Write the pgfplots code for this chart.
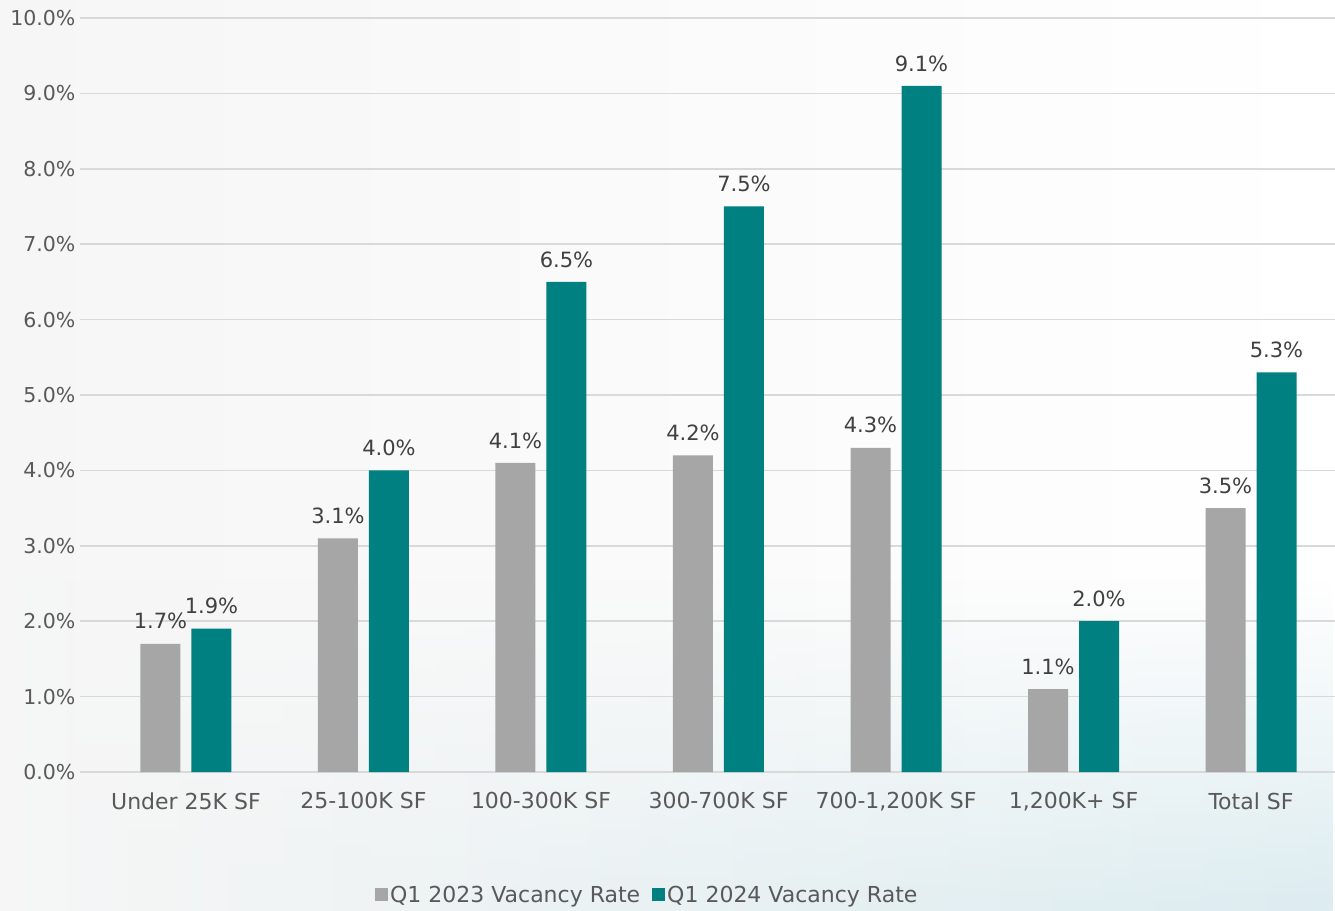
\documentclass[border=0pt]{standalone}
\usepackage{pgfplots}
\pgfplotsset{compat=1.18}
\usetikzlibrary{fadings}
\usepackage{fontspec}
\setmainfont{DejaVu Sans}
\definecolor{barGray}{HTML}{A6A6A6}
\definecolor{barTeal}{HTML}{008080}
\definecolor{gridGray}{HTML}{D9D9D9}
\definecolor{tickText}{HTML}{595959}
\definecolor{valText}{HTML}{404040}
\definecolor{bgLight}{HTML}{F6F6F6}
\definecolor{bgBlue}{HTML}{DCECF0}
\begin{document}
\begin{tikzpicture}[x=1pt,y=1pt]
\useasboundingbox (0,0) rectangle (1335pt,910pt);
% soft background
\shade[left color=bgLight, right color=white] (0,0) rectangle (1335pt,910pt);
\shade[left color=bgLight, right color=bgBlue, path fading=north] (0,0) rectangle (1335pt,330pt);
\begin{axis}[
  at={(80pt,138pt)}, anchor=south west,
  width=1255pt, height=754pt, scale only axis,
  ybar=11pt, bar width=40pt,
  xmin=-0.597, xmax=6.473,
  ymin=0, ymax=10,
  ytick={0,1,...,10},
  xtick=data,
  xticklabels={Under 25K SF,25-100K SF,100-300K SF,300-700K SF,700-1{,}200K SF,{1,200K+ SF},Total SF},
  axis line style={draw=none},
  major tick length=0pt,
  ymajorgrids, grid style={gridGray, line width=1.5pt},
  /pgf/number format/assume math mode=true,
  yticklabel={\pgfmathprintnumber[fixed,fixed zerofill,precision=1]{\tick}\%},
  yticklabel style={font=\fontsize{20.5}{24}\selectfont, text=tickText, xshift=-1pt},
  xticklabel style={font=\fontsize{22}{24}\selectfont, text=tickText, yshift=-17pt},
  point meta=explicit symbolic,
  nodes near coords={\pgfplotspointmeta\%},
  nodes near coords style={font=\fontsize{21}{24}\selectfont, text=valText, yshift=11pt},
  legend columns=2,
  legend style={at={(0.452,-0.163)}, anchor=center, draw=none, fill=none,
    font=\fontsize{22}{24}\selectfont, text=tickText,
    /tikz/every even column/.append style={column sep=10pt}},
  legend image code/.code={\fill[#1] (0,-6.5pt) rectangle (13pt,6.5pt);},
  legend cell align=left,
]
\addplot[fill=barGray, draw=none] coordinates {(0,1.7)[1.7] (1,3.1)[3.1] (2,4.1)[4.1] (3,4.2)[4.2] (4,4.3)[4.3] (5,1.1)[1.1] (6,3.5)[3.5]};
\addplot[fill=barTeal, draw=none] coordinates {(0,1.9)[1.9] (1,4.0)[4.0] (2,6.5)[6.5] (3,7.5)[7.5] (4,9.1)[9.1] (5,2.0)[2.0] (6,5.3)[5.3]};
\legend{Q1 2023 Vacancy Rate, Q1 2024 Vacancy Rate}
\end{axis}
\end{tikzpicture}
\end{document}
